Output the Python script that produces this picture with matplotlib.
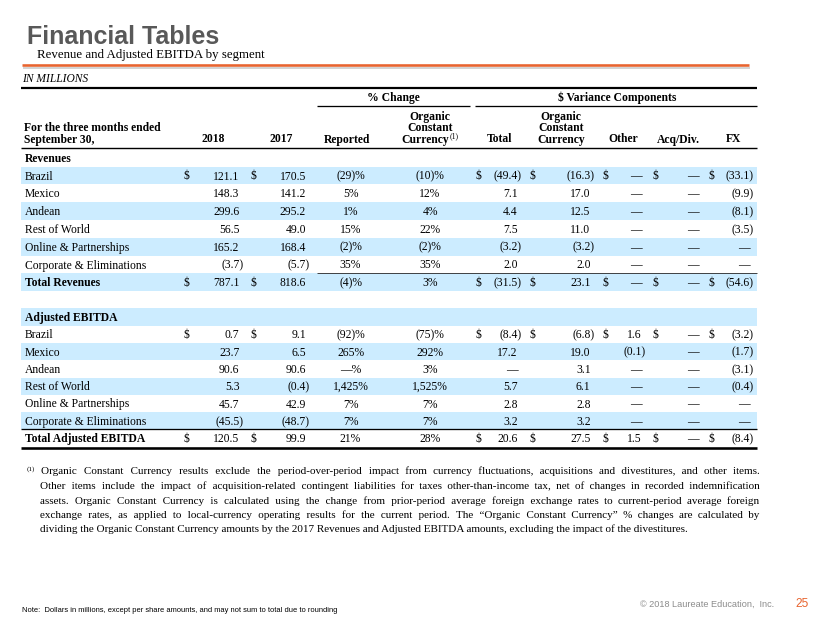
import matplotlib
matplotlib.use("Agg")
import matplotlib.pyplot as plt
from matplotlib.patches import Rectangle

SERIF = "Liberation Serif"
SANS = "Liberation Sans"

# ---- data (in millions) ----
segments = ["Brazil", "Mexico", "Andean", "Rest of World",
            "Online & Partnerships", "Corporate & Eliminations"]

rev_2018 = [121.1, 148.3, 299.6, 56.5, 165.2, -3.7, 787.1]
rev_2017 = [170.5, 141.2, 295.2, 49.0, 168.4, -5.7, 818.6]
rev_pct_reported = [-29, 5, 1, 15, -2, 35, -4]
rev_pct_organic = [-10, 12, 4, 22, -2, 35, 3]
rev_var_total = [-49.4, 7.1, 4.4, 7.5, -3.2, 2.0, -31.5]
rev_var_organic = [-16.3, 17.0, 12.5, 11.0, -3.2, 2.0, 23.1]
rev_var_other = [0, 0, 0, 0, 0, 0, 0]
rev_var_acq = [0, 0, 0, 0, 0, 0, 0]
rev_var_fx = [-33.1, -9.9, -8.1, -3.5, 0, 0, -54.6]

ebitda_2018 = [0.7, 23.7, 90.6, 5.3, 45.7, -45.5, 120.5]
ebitda_2017 = [9.1, 6.5, 90.6, -0.4, 42.9, -48.7, 99.9]
ebitda_pct_reported = [-92, 265, 0, 1425, 7, 7, 21]
ebitda_pct_organic = [-75, 292, 3, 1525, 7, 7, 28]
ebitda_var_total = [-8.4, 17.2, 0, 5.7, 2.8, 3.2, 20.6]
ebitda_var_organic = [-6.8, 19.0, 3.1, 6.1, 2.8, 3.2, 27.5]
ebitda_var_other = [1.6, -0.1, 0, 0, 0, 0, 1.5]
ebitda_var_acq = [0, 0, 0, 0, 0, 0, 0]
ebitda_var_fx = [-3.2, -1.7, -3.1, -0.4, 0, 0, -8.4]

footnote_lines = [
    "Organic Constant Currency results exclude the period-over-period impact from currency fluctuations, acquisitions and divestitures, and other items.",
    "Other items include the impact of acquisition-related contingent liabilities for taxes other-than-income tax, net of changes in recorded indemnification",
    "assets. Organic Constant Currency is calculated using the change from prior-period average foreign exchange rates to current-period average foreign",
    "exchange rates, as applied to local-currency operating results for the current period. The \u201cOrganic Constant Currency\u201d % changes are calculated by",
    "dividing the Organic Constant Currency amounts by the 2017 Revenues and Adjusted EBITDA amounts, excluding the impact of the divestitures.",
]

# ---- styling ----
FS = 8.35            # table font size (pt)
PAREN = 3.9          # px a closing paren hangs past the digits
BAND = "#CCECFF"
ORANGE = "#E8642F"
LEFT, RIGHT = 21, 757

fig = plt.figure(figsize=(8.3, 6.23), dpi=100)
ax = fig.add_axes([0, 0, 1, 1])
ax.set_xlim(0, 830)
ax.set_ylim(623, 0)
ax.axis("off")
renderer = fig.canvas.get_renderer()


def hline(y, x0, x1, px, color="black"):
    ax.plot([x0, x1], [y, y], color=color, lw=px * 0.72, solid_capstyle="butt")


def put(x, y, s, ha="left", bold=False, size=FS, family=SERIF, **kw):
    return ax.text(x, y + 4, s, ha=ha, va="baseline", fontfamily=family,
                   fontweight="bold" if bold else "normal", fontsize=size, **kw)


def width(t):
    return t.get_window_extent(renderer).width


def fmt_money(v):
    if v == 0:
        return "\u2014"
    s = f"{abs(v):,.1f}"
    return f"({s})" if v < 0 else s


def fmt_pct(v):
    if v == 0:
        return "\u2014%"
    s = f"{abs(v):,}"
    return f"({s})%" if v < 0 else f"{s}%"


def money(x, y, v):
    put(x + PAREN if v < 0 else x, y, fmt_money(v), ha="right")


# ---- slide header ----
ax.text(27, 44, "Financial Tables", fontfamily=SANS, fontweight="bold",
        fontsize=18, color="#595959", va="baseline")
ax.text(37, 55, "Revenue and Adjusted EBITDA by segment", fontfamily=SERIF,
        fontsize=9.3, va="center")
hline(67.5, 23, 750, 2.0, color="#D4D4D4")
hline(65, 22, 749, 2.6, color=ORANGE)
ax.text(22, 79, "IN MILLIONS", fontfamily=SERIF, fontstyle="italic",
        fontsize=8.3, va="center")

# ---- column headers ----
hline(88, LEFT, RIGHT, 2.2)
put(393, 97.5, "% Change", ha="center", bold=True)
put(617, 97.5, "$ Variance Components", ha="center", bold=True)
hline(105.7, 317, 470, 1.3)
hline(105.7, 475, RIGHT, 1.3)

H3, H2, H1 = 138.5, 127.4, 116.3   # header line centres (bottom to top)
put(24, H2, "For the three months ended", bold=True)
put(24, H3, "September 30,", bold=True)
put(225, H3, "2018", ha="right", bold=True)
put(293, H3, "2017", ha="right", bold=True)
put(347, H3, "Reported", ha="center", bold=True)
put(430, H1, "Organic", ha="center", bold=True)
put(430, H2, "Constant", ha="center", bold=True)
cur = put(0, H3, "Currency", bold=True)
sup = ax.text(0, H3, "(1)", fontfamily=SERIF, fontsize=5.6, va="baseline")
w1, w2 = width(cur), width(sup)
cur.set_x(430 - (w1 + w2) / 2)
sup.set_x(430 - (w1 + w2) / 2 + w1 + 0.5)
put(499.5, H3, "Total", ha="center", bold=True)
put(561, H1, "Organic", ha="center", bold=True)
put(561, H2, "Constant", ha="center", bold=True)
put(561, H3, "Currency", ha="center", bold=True)
put(623.5, H3, "Other", ha="center", bold=True)
put(678.5, H3, "Acq/Div.", ha="center", bold=True)
put(733.5, H3, "FX", ha="center", bold=True)
hline(147.7, LEFT, RIGHT, 1.4)

# ---- body ----
# (dollar-sign x, digit right edge x) for the money columns
money_cols = [(186.5, 239.5), (253.5, 306), (478.5, 517.5), (532.5, 590.5),
              (605, 641.5), (655, 698.5), (711.5, 750)]
pct_cols = [350.5, 430]

sections = [
    ("Revenues", "Total Revenues", 157.7, 17.8,
     [rev_2018, rev_2017, rev_var_total, rev_var_organic, rev_var_other,
      rev_var_acq, rev_var_fx],
     [rev_pct_reported, rev_pct_organic]),
    ("Adjusted EBITDA", "Total Adjusted EBITDA", 317.0, 17.3,
     [ebitda_2018, ebitda_2017, ebitda_var_total, ebitda_var_organic,
      ebitda_var_other, ebitda_var_acq, ebitda_var_fx],
     [ebitda_pct_reported, ebitda_pct_organic]),
]

k = 0
for title, total_label, y0, pitch, mcols, pcols in sections:
    labels = segments + [total_label]
    if k % 2 == 1:
        ax.add_patch(Rectangle((LEFT, y0 - pitch / 2), RIGHT - LEFT, pitch,
                               color=BAND, lw=0, zorder=0))
    put(24.5, y0, title, bold=True)
    k += 1
    for i, label in enumerate(labels):
        y = y0 + (i + 1) * pitch
        if k % 2 == 1:
            ax.add_patch(Rectangle((LEFT, y - pitch / 2), RIGHT - LEFT, pitch,
                                   color=BAND, lw=0, zorder=0))
        is_total = i == len(labels) - 1
        put(24.5, y, label, bold=is_total)
        show_dollar = i == 0 or is_total
        for (xd, xr), vals in zip(money_cols, mcols):
            if show_dollar:
                put(xd, y, "$", ha="center")
            money(xr, y, vals[i])
        for xc, vals in zip(pct_cols, pcols):
            put(xc, y, fmt_pct(vals[i]), ha="center")
        k += 1
    k += 1  # spacer row between sections

rev_total_y = 157.7 + 7 * 17.8
hline(rev_total_y - 17.8 / 2, 317, RIGHT, 0.9, color="#333333")
eb_total_y = 317.0 + 7 * 17.3
hline(eb_total_y - 17.3 / 2, LEFT, RIGHT, 1.3)
hline(447.5, LEFT, RIGHT, 2.6)

# ---- footnote (justified with hair spaces, one text per line) ----
FN = 8.0
FN_FAMILY = [SERIF, "DejaVu Sans"]
HAIR = "\u200a"


def fn_width(s):
    t = ax.text(0, 0, s, fontfamily=FN_FAMILY, fontsize=FN)
    w = width(t)
    t.remove()
    return w


hair_w = (fn_width("a" + HAIR * 20 + "a") - fn_width("aa")) / 20

ax.text(27, 470.5, "(1)", fontfamily=SERIF, fontsize=5.2, va="baseline")
fn_right = 759
for j, line in enumerate(footnote_lines):
    yb = 474.5 + j * 14.5
    x0 = 40.5 if j == 0 else 39.5
    if j < len(footnote_lines) - 1 and hair_w > 0:
        words = line.split(" ")
        gaps = len(words) - 1
        extra = max(0, round((fn_right - x0 - fn_width(line)) / hair_w))
        out = words[0]
        for g, w in enumerate(words[1:]):
            n = extra // gaps + (1 if g < extra % gaps else 0)
            out += " " + HAIR * n + w
        line = out
    ax.text(x0, yb, line, fontfamily=FN_FAMILY, fontsize=FN, va="baseline")

# ---- footer ----
ax.text(22, 610, "Note:  Dollars in millions, except per share amounts, and may not sum to total due to rounding",
        fontfamily=SANS, fontsize=5.4, va="center")
ax.text(774, 604, "\u00a9 2018 Laureate Education,  Inc.", fontfamily=SANS,
        fontsize=6.6, color="#8C8C8C", va="center", ha="right")
ax.text(795, 604, "25", fontfamily=SANS, fontsize=8.6, color=ORANGE, va="center")

fig.savefig("out.png", dpi=100)
